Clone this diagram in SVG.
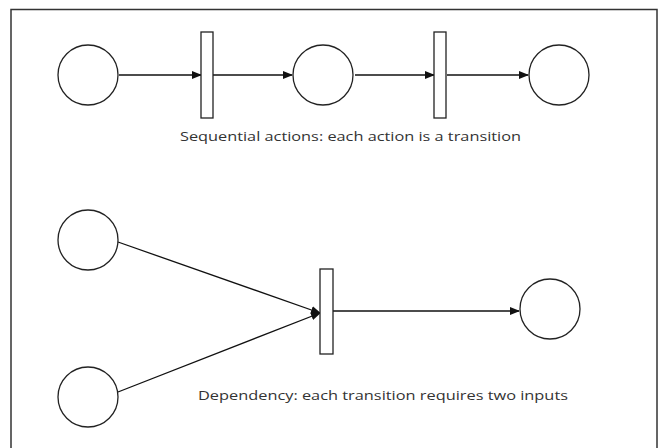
<svg xmlns="http://www.w3.org/2000/svg" width="662" height="448" viewBox="0 0 662 448">
<defs>
<marker id="ah" markerWidth="10" markerHeight="8" refX="9" refY="4" orient="auto" markerUnits="userSpaceOnUse">
<path d="M0,0 L10,4 L0,8 Z" fill="#111"/>
</marker>
<style>
.place{fill:#fff;stroke:#222;stroke-width:1.3}
.trans{fill:#fff;stroke:#222;stroke-width:1.3}
.arc{stroke:#111;stroke-width:1.3;fill:none;marker-end:url(#ah)}
.lbl{font-family:"Open Sans","Liberation Sans",sans-serif;font-size:13px;fill:#333}
</style>
</defs>
<rect x="0" y="0" width="662" height="448" fill="#fff"/>
<rect x="11" y="9.5" width="646" height="450" fill="#fff" stroke="#333" stroke-width="1.5"/>
<g id="connectors">
<line class="arc" x1="119" y1="75" x2="201" y2="75"/>
<line class="arc" x1="213" y1="75" x2="292" y2="75"/>
<line class="arc" x1="355" y1="75" x2="434" y2="75"/>
<line class="arc" x1="447" y1="75" x2="528" y2="75"/>
<line class="arc" x1="118" y1="242" x2="320" y2="313"/>
<line class="arc" x1="118" y1="392" x2="320" y2="313"/>
<line class="arc" x1="333" y1="311" x2="519" y2="311"/>
</g>
<g id="p1"><circle class="place" cx="88" cy="75" r="30"/></g>
<g id="t1"><rect class="trans" x="201" y="32" width="12" height="86"/></g>
<g id="p2"><circle class="place" cx="323" cy="75" r="30"/></g>
<g id="t2"><rect class="trans" x="434" y="32" width="12" height="86"/></g>
<g id="p3"><circle class="place" cx="559" cy="75" r="30"/></g>
<g id="p4"><circle class="place" cx="88" cy="240" r="30"/></g>
<g id="p5"><circle class="place" cx="88" cy="397" r="30"/></g>
<g id="t3"><rect class="trans" x="320" y="269" width="13" height="85"/></g>
<g id="p6"><circle class="place" cx="550" cy="309" r="30"/></g>
<g id="label1"><text class="lbl" x="180" y="141" textLength="341" lengthAdjust="spacingAndGlyphs">Sequential actions: each action is a transition</text></g>
<g id="label2"><text class="lbl" x="198" y="400" textLength="370" lengthAdjust="spacingAndGlyphs">Dependency: each transition requires two inputs</text></g>
</svg>
